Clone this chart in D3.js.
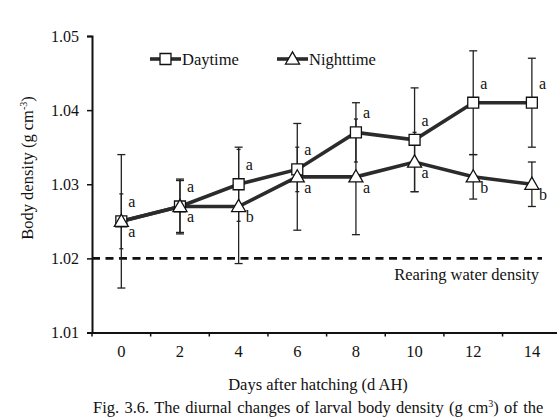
<!DOCTYPE html>
<html lang="en">
<head>
<meta charset="UTF-8">
<title>Body density</title>
<script src="https://d3js.org/d3.v7.min.js"></script>
<style>
  body, html { margin: 0; padding: 0; background: #fff; }
  svg text { font-family: "Liberation Serif", "Times New Roman", serif; fill: #111; }
</style>
</head>
<body>
<div id="chart"></div>
<script>
// data
const days = ["0", "2", "4", "6", "8", "10", "12", "14"];
const dayValues   = [1.025, 1.027, 1.030, 1.032, 1.037, 1.036, 1.041, 1.041];
const dayErr      = [0.0037, 0.0037, 0.005, 0.003, 0.004, 0.007, 0.007, 0.006];
const nightValues = [1.025, 1.027, 1.027, 1.031, 1.031, 1.033, 1.031, 1.030];
const nightErr    = [0.009, 0.0035, 0.0077, 0.0072, 0.0078, 0.004, 0.003, 0.003];
const dayLetters   = ["a", "a", "a", "a", "a", "a", "a", "a"];
const nightLetters = ["a", "a", "b", "a", "a", "a", "b", "b"];
const yTicks = [1.01, 1.02, 1.03, 1.04, 1.05];
const waterDensity = 1.02;

const W = 557, H = 418;
const serif = "'Liberation Serif', 'Times New Roman', serif";
const svg = d3.select("#chart").append("svg")
    .attr("width", W).attr("height", H);

const x = d3.scaleBand().domain(days).range([92, 92 + 8 * 58.65]);
const y = d3.scaleLinear().domain([1.01, 1.05]).range([332.5, 36]);
const cx = d => x(d) + x.bandwidth() / 2;

// axes
const yAxis = svg.append("g").attr("transform", "translate(92,0)")
    .call(d3.axisLeft(y).tickValues(yTicks).tickFormat(d3.format(".2f")).tickSize(5))
    .attr("font-family", serif).attr("font-size", 16);
yAxis.select(".domain").attr("stroke", "#111").attr("stroke-width", 2);
yAxis.selectAll(".tick line").attr("stroke", "#111").attr("stroke-width", 1.5);
yAxis.selectAll(".tick text").attr("x", -13).attr("fill", "#111");

const xAxis = svg.append("g").attr("transform", "translate(0,332.5)")
    .call(d3.axisBottom(x).tickSize(0).tickPadding(13))
    .attr("font-family", serif).attr("font-size", 16.5);
xAxis.select(".domain").attr("stroke", "#111").attr("stroke-width", 2);
xAxis.selectAll(".tick text").attr("fill", "#111");
// tick marks between categories
xAxis.selectAll("line.sep")
    .data(d3.range(days.length + 1))
    .enter().append("line").attr("class", "sep")
    .attr("x1", i => 92 + i * x.step()).attr("x2", i => 92 + i * x.step())
    .attr("y1", 0).attr("y2", 4)
    .attr("stroke", "#111").attr("stroke-width", 1.5);

// rearing water line
svg.append("line")
    .attr("x1", 92).attr("x2", 542)
    .attr("y1", y(waterDensity)).attr("y2", y(waterDensity))
    .attr("stroke", "#111").attr("stroke-width", 2.8)
    .attr("stroke-dasharray", "8,5.5");
svg.append("text").attr("x", 539).attr("y", y(waterDensity) + 22)
    .attr("text-anchor", "end").style("font-size", "16.5px")
    .text("Rearing water density");

// error bars
function drawErr(vals, errs, other, otherErr) {
  days.forEach((d, i) => {
    const lo = vals[i] - errs[i], hi = vals[i] + errs[i];
    const olo = other[i] - otherErr[i] + 0.0002, ohi = other[i] + otherErr[i] - 0.0002;
    svg.append("line")
        .attr("x1", cx(d)).attr("x2", cx(d))
        .attr("y1", y(lo)).attr("y2", y(hi))
        .attr("stroke", "#222").attr("stroke-width", 1.3);
    [lo, hi].forEach(v => {
      const w = (v > olo && v < ohi) ? 2 : 4;
      svg.append("line")
          .attr("x1", cx(d) - w).attr("x2", cx(d) + w)
          .attr("y1", y(v)).attr("y2", y(v))
          .attr("stroke", "#222").attr("stroke-width", 1.3);
    });
  });
}
drawErr(dayValues, dayErr, nightValues, nightErr);
drawErr(nightValues, nightErr, dayValues, dayErr);

// series lines
const line = d3.line().x((v, i) => cx(days[i])).y(v => y(v));
[dayValues, nightValues].forEach(vals => {
  svg.append("path").attr("d", line(vals))
      .attr("fill", "none").attr("stroke", "#2b2b2b").attr("stroke-width", 3.6);
});

// markers
const sq = d3.symbol().type(d3.symbolSquare).size(120);
const tri = d3.symbol().type(d3.symbolTriangle).size(85);
svg.selectAll("path.sq").data(dayValues).enter().append("path").attr("class", "sq")
    .attr("d", sq).attr("transform", (v, i) => `translate(${cx(days[i])},${y(v)})`)
    .attr("fill", "#fff").attr("stroke", "#111").attr("stroke-width", 1.3);
svg.selectAll("path.tri").data(nightValues).enter().append("path").attr("class", "tri")
    .attr("d", tri).attr("transform", (v, i) => `translate(${cx(days[i])},${y(v) + 1})`)
    .attr("fill", "#fff").attr("stroke", "#111").attr("stroke-width", 1.3);

// significance letters
svg.selectAll("text.dl").data(dayLetters).enter().append("text").attr("class", "dl")
    .attr("x", (t, i) => cx(days[i]) + 7).attr("y", (t, i) => y(dayValues[i]) - 14)
    .style("font-size", "16px").text(t => t);
svg.selectAll("text.nl").data(nightLetters).enter().append("text").attr("class", "nl")
    .attr("x", (t, i) => cx(days[i]) + 7).attr("y", (t, i) => y(nightValues[i]) + 16)
    .style("font-size", "16px").text(t => t);

// legend
const leg = svg.append("g");
[[150, "Daytime", sq, 0], [277, "Nighttime", tri, 1]].forEach(([lx, name, sym, dy]) => {
  leg.append("line").attr("x1", lx).attr("x2", lx + 31).attr("y1", 59).attr("y2", 59)
      .attr("stroke", "#2b2b2b").attr("stroke-width", 3.6);
  leg.append("path").attr("d", sym).attr("transform", `translate(${lx + 15.5},${59 + dy})`)
      .attr("fill", "#fff").attr("stroke", "#111").attr("stroke-width", 1.3);
  leg.append("text").attr("x", lx + 32).attr("y", 64.5).style("font-size", "16.5px").text(name);
});

// axis titles
svg.append("text").attr("x", 318).attr("y", 390).attr("text-anchor", "middle")
    .style("font-size", "16.5px").text("Days after hatching (d AH)");
const yt = svg.append("text").attr("transform", "translate(33,168) rotate(-90)")
    .attr("text-anchor", "middle").style("font-size", "16.5px");
yt.append("tspan").text("Body density (g cm");
yt.append("tspan").attr("dy", -6).style("font-size", "10px").text("-3");
yt.append("tspan").attr("dy", 6).text(")");

// caption at the bottom edge
const cap = svg.append("text").attr("x", 93).attr("y", 413)
    .style("font-size", "16.5px").style("word-spacing", "1.2px");
cap.append("tspan").text("Fig. 3.6. The diurnal changes of larval body density (g cm");
cap.append("tspan").attr("dy", -6).style("font-size", "10px").text("3");
cap.append("tspan").attr("dy", 6).text(") of the");
</script>
</body>
</html>
